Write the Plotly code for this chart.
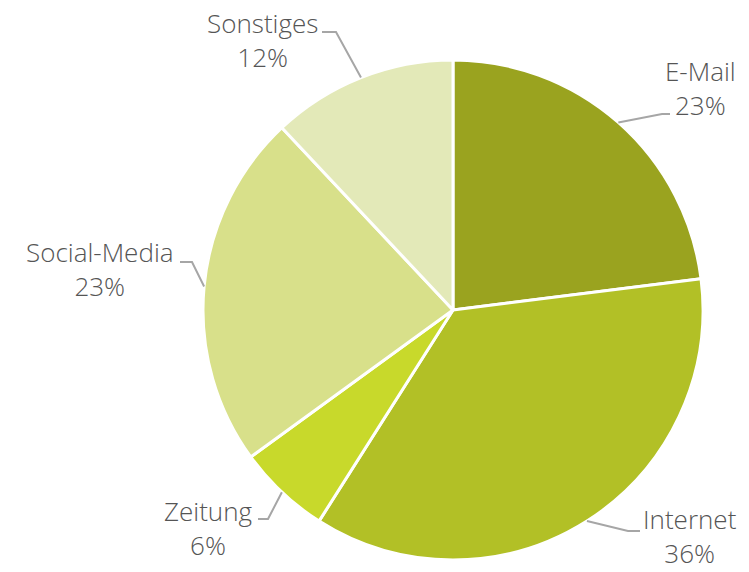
import math
import plotly.graph_objects as go

# ---- data ----
categories = ["E-Mail", "Internet", "Zeitung", "Social-Media", "Sonstiges"]
values = [23, 36, 6, 23, 12]
colors = ["#9aa31f", "#b2c026", "#c8d92b", "#d8e08a", "#e3e9b8"]

# ---- layout / style ----
W, H = 749, 572
CX, CY, R = 453, 310, 250  # pie centre and radius in pixels
# label leader elbow (px), line end x (px), text centre x, label block centre y
label_style = {
    "E-Mail":       dict(elbow=(662, 114), end_x=670, tx=700, ty=88),
    "Internet":     dict(elbow=(628, 531), end_x=640, tx=690, ty=536),
    "Zeitung":      dict(elbow=(268, 519), end_x=258, tx=208, ty=528),
    "Social-Media": dict(elbow=(192, 262), end_x=180, tx=100, ty=269),
    "Sonstiges":    dict(elbow=(336, 32), end_x=322, tx=262, ty=40),
}

def px(x):
    return x / W

def py_(y):
    return 1 - y / H

fig = go.Figure(go.Pie(
    labels=categories,
    values=values,
    sort=False,
    direction="clockwise",
    rotation=0,
    marker=dict(colors=colors, line=dict(color="white", width=3)),
    textinfo="none",
    hoverinfo="label+percent",
    showlegend=False,
    domain=dict(x=[px(CX - R), px(CX + R)], y=[py_(CY + R), py_(CY - R)]),
))

total = sum(values)
cum = 0
shapes = []
annotations = []
font = dict(family="Open Sans", size=26, color="#555555", weight=300)
for cat, v in zip(categories, values):
    mid = (cum + v / 2) / total * 2 * math.pi
    cum += v
    sx = CX + R * math.sin(mid)
    sy = CY - R * math.cos(mid)
    st = label_style[cat]
    ex, ey = st["elbow"]
    path = f"M {px(sx)},{py_(sy)} L {px(ex)},{py_(ey)} L {px(st['end_x'])},{py_(ey)}"
    shapes.append(dict(type="path", xref="paper", yref="paper", path=path,
                       line=dict(color="#a6a6a6", width=2)))
    pct = round(v / total * 100)
    annotations.append(dict(text=f"{cat}<br>{pct}%", x=px(st["tx"]), y=py_(st["ty"]),
                            xref="paper", yref="paper", showarrow=False, align="center",
                            xanchor="center", yanchor="middle", borderpad=0, font=font))

fig.update_layout(
    width=W, height=H,
    margin=dict(l=0, r=0, t=0, b=0),
    paper_bgcolor="white",
    plot_bgcolor="white",
    shapes=shapes,
    annotations=annotations,
    font=dict(family="Open Sans", weight=300),
)
fig.write_html(
    "out.html",
    config={"displayModeBar": False},
    post_script="document.body.style.margin='0';document.body.style.overflow='hidden';",
)
